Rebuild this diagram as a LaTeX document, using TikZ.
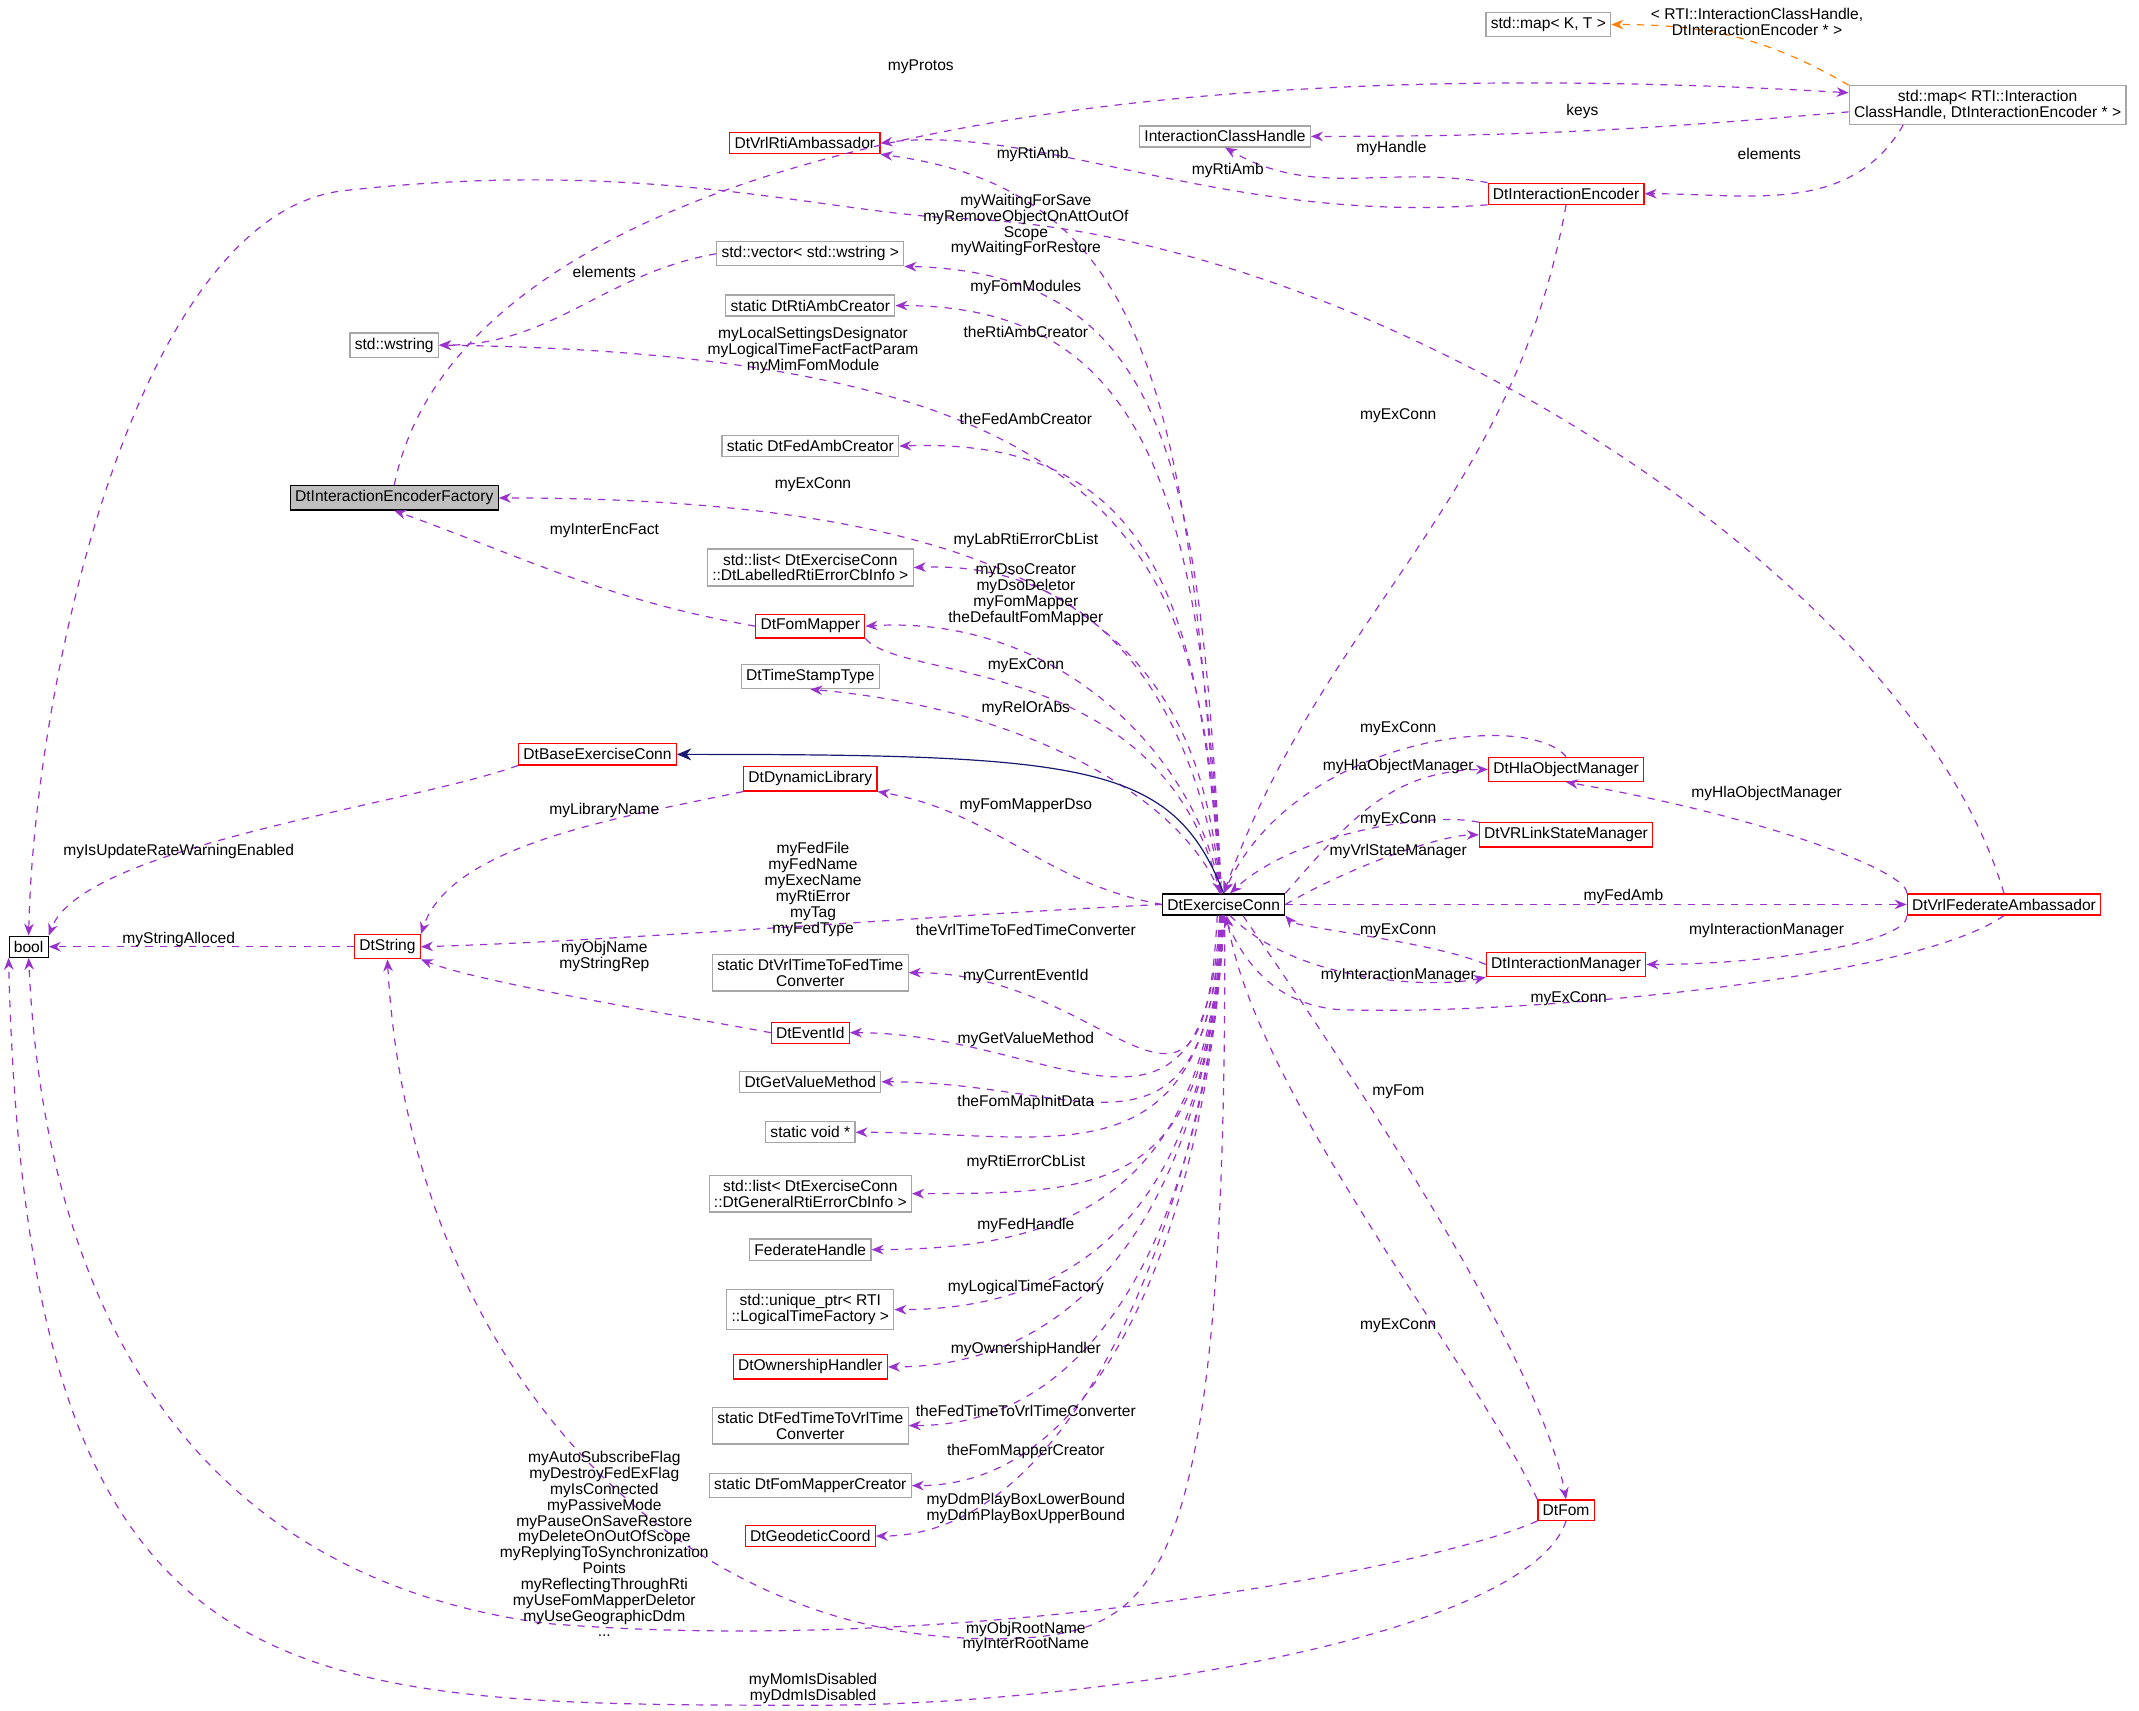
\documentclass[tikz,border=0pt]{standalone}
\usepackage{fontspec}
\setmainfont{Liberation Sans}
\usetikzlibrary{arrows.meta,calc}
\definecolor{dep}{HTML}{9A32CD}
\definecolor{navy}{HTML}{191970}
\begin{document}
\begin{tikzpicture}[x=0.02cm,y=-0.02cm,
 every node/.style={font=\fontsize{6.5}{6.6}\selectfont},
 bx/.style={draw=#1,line width=0.5pt,inner sep=2pt,minimum height=0.26cm,align=center,fill=white},
 g/.style={bx=black!35},
 r/.style={bx=red},
 k/.style={bx=black},
 lab/.style={inner sep=0,align=center},
 dp/.style={dep,dashed,line width=0.5pt,-{Stealth[length=5pt,width=4pt]}}]
\useasboundingbox (0,0) rectangle (1568,1254);
% nodes
\node[g] (mkt) at (1135,18) {std::map< K, T >};
\node[g] (map) at (1457,77) {std::map< RTI::Interaction\\ClassHandle, DtInteractionEncoder * >};
\node[g] (ich) at (898,100) {InteractionClassHandle};
\node[r] (vra) at (590,105) {DtVrlRtiAmbassador};
\node[r] (ie) at (1148,142) {DtInteractionEncoder};
\node[g] (vec) at (594,186) {std::vector< std::wstring >};
\node[g] (rac) at (594,224) {static DtRtiAmbCreator};
\node[g] (ws) at (289,253) {std::wstring};
\node[g] (fac) at (594,327) {static DtFedAmbCreator};
\node[k,fill=black!25] (ief) at (289,365) {DtInteractionEncoderFactory};
\node[g] (l1) at (594,416) {std::list< DtExerciseConn\\::DtLabelledRtiErrorCbInfo >};
\node[r] (fm) at (594,459) {DtFomMapper};
\node[g] (ts) at (594,496) {DtTimeStampType};
\node[r] (bec) at (438,553) {DtBaseExerciseConn};
\node[r] (dl) at (594,571) {DtDynamicLibrary};
\node[k] (bool) at (21,694) {bool};
\node[r] (str) at (284,694) {DtString};
\node[k] (ec) at (897,663) {DtExerciseConn};
\node[g] (vtf) at (594,713) {static DtVrlTimeToFedTime\\Converter};
\node[r] (eid) at (594,757) {DtEventId};
\node[g] (gvm) at (594,793) {DtGetValueMethod};
\node[g] (sv) at (594,830) {static void *};
\node[g] (l2) at (594,875) {std::list< DtExerciseConn\\::DtGeneralRtiErrorCbInfo >};
\node[g] (fh) at (594,916) {FederateHandle};
\node[g] (up) at (594,960) {std::unique\_ptr< RTI\\::LogicalTimeFactory >};
\node[r] (oh) at (594,1002) {DtOwnershipHandler};
\node[g] (ftv) at (594,1045) {static DtFedTimeToVrlTime\\Converter};
\node[g] (fmc) at (594,1089) {static DtFomMapperCreator};
\node[r] (gc) at (594,1126) {DtGeodeticCoord};
\node[r] (hom) at (1148,564) {DtHlaObjectManager};
\node[r] (vls) at (1148,612) {DtVRLinkStateManager};
\node[r] (vfa) at (1469,663) {DtVrlFederateAmbassador};
\node[r] (im) at (1148,707) {DtInteractionManager};
\node[r] (fom) at (1148,1107) {DtFom};
% edges top right
\draw[dp,color=orange] (map.north west) to[out=150,in=0] (mkt.east);
\draw[dp] ($(map.west)+(0,5)$) to[out=185,in=0] (ich.east);
\draw[dp] (ief.north) .. controls (330,150) and (700,30) .. ($(map.west)+(0,-9)$);
\draw[dp] ($(map.south west)+(40,0)$) to[out=-120,in=0] (ie.east);
\draw[dp] (ie.north west) to[out=170,in=-30] (ich.south);
\draw[dp] (ie.south west) .. controls (900,165) and (760,90) .. (vra.east);
\draw[dp] (ie.south) to[out=-100,in=70] (ec.north);
\draw[dp] (ec.105) .. controls (870,300) and (850,140) .. (vra.south east);
\draw[dp] (vfa.north) .. controls (1400,420) and (1000,170) .. (700,160) .. controls (600,155) and (470,115) .. (250,140) .. controls (100,160) and (25,500) .. (bool.north);
\draw[dp] (vec.west) to[out=190,in=0] (ws.east);
% edges from ec to left column
\draw[dp] (ec.101) .. controls (880,350) and (860,200) .. (vec.south east);
\draw[dp] (ec.102) .. controls (880,380) and (850,224) .. (rac.east);
\draw[dp] (ec.103) .. controls (880,420) and (850,260) .. (ws.east);
\draw[dp] (ec.104) .. controls (880,450) and (850,320) .. (fac.east);
\draw[dp] (ec.105) .. controls (880,500) and (820,365) .. (ief.east);
\draw[dp] (ec.106) .. controls (880,540) and (820,410) .. (l1.east);
\draw[dp] (ec.107) .. controls (880,560) and (780,450) .. (fm.east);
\draw[dp] (fm.south east) .. controls (660,500) and (850,480) .. (ec.108);
\draw[dp] (ec.109) .. controls (870,590) and (760,520) .. (ts.south);
\draw[dp] (ec.west) to[out=170,in=-10] (dl.south east);
\draw[navy,line width=0.5pt,-{Stealth[length=6pt,width=5pt]}] (ec.north) .. controls (860,560) and (800,553) .. (bec.east);
\draw[dp] (fm.west) to[out=170,in=-20] (ief.south);
\draw[dp] (bec.south west) .. controls (300,590) and (60,620) .. (bool.north east);
\draw[dp] (dl.south west) .. controls (450,600) and (330,620) .. (str.north east);
\draw[dp] (str.west) -- (bool.east);
\draw[dp] (eid.west) .. controls (500,745) and (350,720) .. (str.south east);
\draw[dp] (ec.west) .. controls (700,670) and (450,690) .. (str.east);
\foreach \n/\a in {vtf/-120,eid/-110,gvm/-105,sv/-100,l2/-97,fh/-95,up/-93,oh/-91,ftv/-89,fmc/-88,gc/-87}
  \draw[dp] (ec.\a) .. controls ($(ec.\a)+(-10,200)$) and ($(\n.east)+(150,0)$) .. (\n.east);
\draw[dp] (ec.-85) .. controls (900,1150) and (850,1190) .. (760,1200) .. controls (500,1220) and (300,1000) .. (str.south);
\draw[dp] (fom.south west) .. controls (1050,1150) and (700,1215) .. (400,1190) .. controls (100,1150) and (30,900) .. (bool.south);
\draw[dp] (fom.south) .. controls (1120,1200) and (800,1250) .. (600,1250) .. controls (200,1250) and (20,1250) .. (bool.south west);
% right side
\draw[dp] (ec.north east) .. controls (990,600) and (1020,565) .. (hom.west);
\draw[dp] (hom.north) .. controls (1120,520) and (950,540) .. (ec.north);
\draw[dp] (ec.east) .. controls (1000,630) and (1060,612) .. (vls.west);
\draw[dp] (vls.north west) .. controls (1050,595) and (950,610) .. (ec.60);
\draw[dp] (ec.east) -- (vfa.west);
\draw[dp] (vfa.north west) .. controls (1400,640) and (1300,600) .. (hom.south);
\draw[dp] (vfa.south west) .. controls (1400,690) and (1300,707) .. (im.east);
\draw[dp] (im.west) .. controls (1050,690) and (950,680) .. (ec.south east);
\draw[dp] (ec.-60) .. controls (950,720) and (1050,725) .. (im.south west);
\draw[dp] (vfa.south) .. controls (1400,720) and (1100,745) .. (980,740) .. controls (930,735) and (910,700) .. (ec.south);
\draw[dp] (ec.-30) .. controls (1000,800) and (1130,1000) .. (fom.north);
\draw[dp] (fom.north west) .. controls (1080,1000) and (920,800) .. (ec.-75);
% labels
\node[lab] at (675,49) {myProtos};
\node[lab] at (1288,16) {< RTI::InteractionClassHandle,\\DtInteractionEncoder * >};
\node[lab] at (1160,82) {keys};
\node[lab] at (757,113) {myRtiAmb};
\node[lab] at (900,125) {myRtiAmb};
\node[lab] at (1020,109) {myHandle};
\node[lab] at (1297,113) {elements};
\node[lab] at (752,165) {myWaitingForSave\\myRemoveObjectOnAttOutOf\\Scope\\myWaitingForRestore};
\node[lab] at (443,199) {elements};
\node[lab] at (752,211) {myFomModules};
\node[lab] at (752,243) {theRtiAmbCreator};
\node[lab] at (596,257) {myLocalSettingsDesignator\\myLogicalTimeFactFactParam\\myMimFomModule};
\node[lab] at (1025,305) {myExConn};
\node[lab] at (752,307) {theFedAmbCreator};
\node[lab] at (596,355) {myExConn};
\node[lab] at (443,389) {myInterEncFact};
\node[lab] at (752,396) {myLabRtiErrorCbList};
\node[lab] at (752,436) {myDsoCreator\\myDsoDeletor\\myFomMapper\\theDefaultFomMapper};
\node[lab] at (752,488) {myExConn};
\node[lab] at (752,519) {myRelOrAbs};
\node[lab] at (1025,534) {myExConn};
\node[lab] at (1025,562) {myHlaObjectManager};
\node[lab] at (1295,582) {myHlaObjectManager};
\node[lab] at (443,594) {myLibraryName};
\node[lab] at (752,591) {myFomMapperDso};
\node[lab] at (1025,601) {myExConn};
\node[lab] at (1025,624) {myVrlStateManager};
\node[lab] at (131,624) {myIsUpdateRateWarningEnabled};
\node[lab] at (596,652) {myFedFile\\myFedName\\myExecName\\myRtiError\\myTag\\myFedType};
\node[lab] at (1190,657) {myFedAmb};
\node[lab] at (131,689) {myStringAlloced};
\node[lab] at (752,682) {theVrlTimeToFedTimeConverter};
\node[lab] at (1025,682) {myExConn};
\node[lab] at (1295,682) {myInteractionManager};
\node[lab] at (443,701) {myObjName\\myStringRep};
\node[lab] at (752,716) {myCurrentEventId};
\node[lab] at (1025,715) {myInteractionManager};
\node[lab] at (1150,732) {myExConn};
\node[lab] at (752,762) {myGetValueMethod};
\node[lab] at (752,808) {theFomMapInitData};
\node[lab] at (1025,800) {myFom};
\node[lab] at (752,852) {myRtiErrorCbList};
\node[lab] at (752,898) {myFedHandle};
\node[lab] at (752,944) {myLogicalTimeFactory};
\node[lab] at (1025,972) {myExConn};
\node[lab] at (752,989) {myOwnershipHandler};
\node[lab] at (752,1034) {theFedTimeToVrlTimeConverter};
\node[lab] at (752,1064) {theFomMapperCreator};
\node[lab] at (752,1106) {myDdmPlayBoxLowerBound\\myDdmPlayBoxUpperBound};
\node[lab] at (443,1132) {myAutoSubscribeFlag\\myDestroyFedExFlag\\myIsConnected\\myPassiveMode\\myPauseOnSaveRestore\\myDeleteOnOutOfScope\\myReplyingToSynchronization\\Points\\myReflectingThroughRti\\myUseFomMapperDeletor\\myUseGeographicDdm\\...};
\node[lab] at (752,1200) {myObjRootName\\myInterRootName};
\node[lab] at (596,1238) {myMomIsDisabled\\myDdmIsDisabled};
\end{tikzpicture}
\end{document}
